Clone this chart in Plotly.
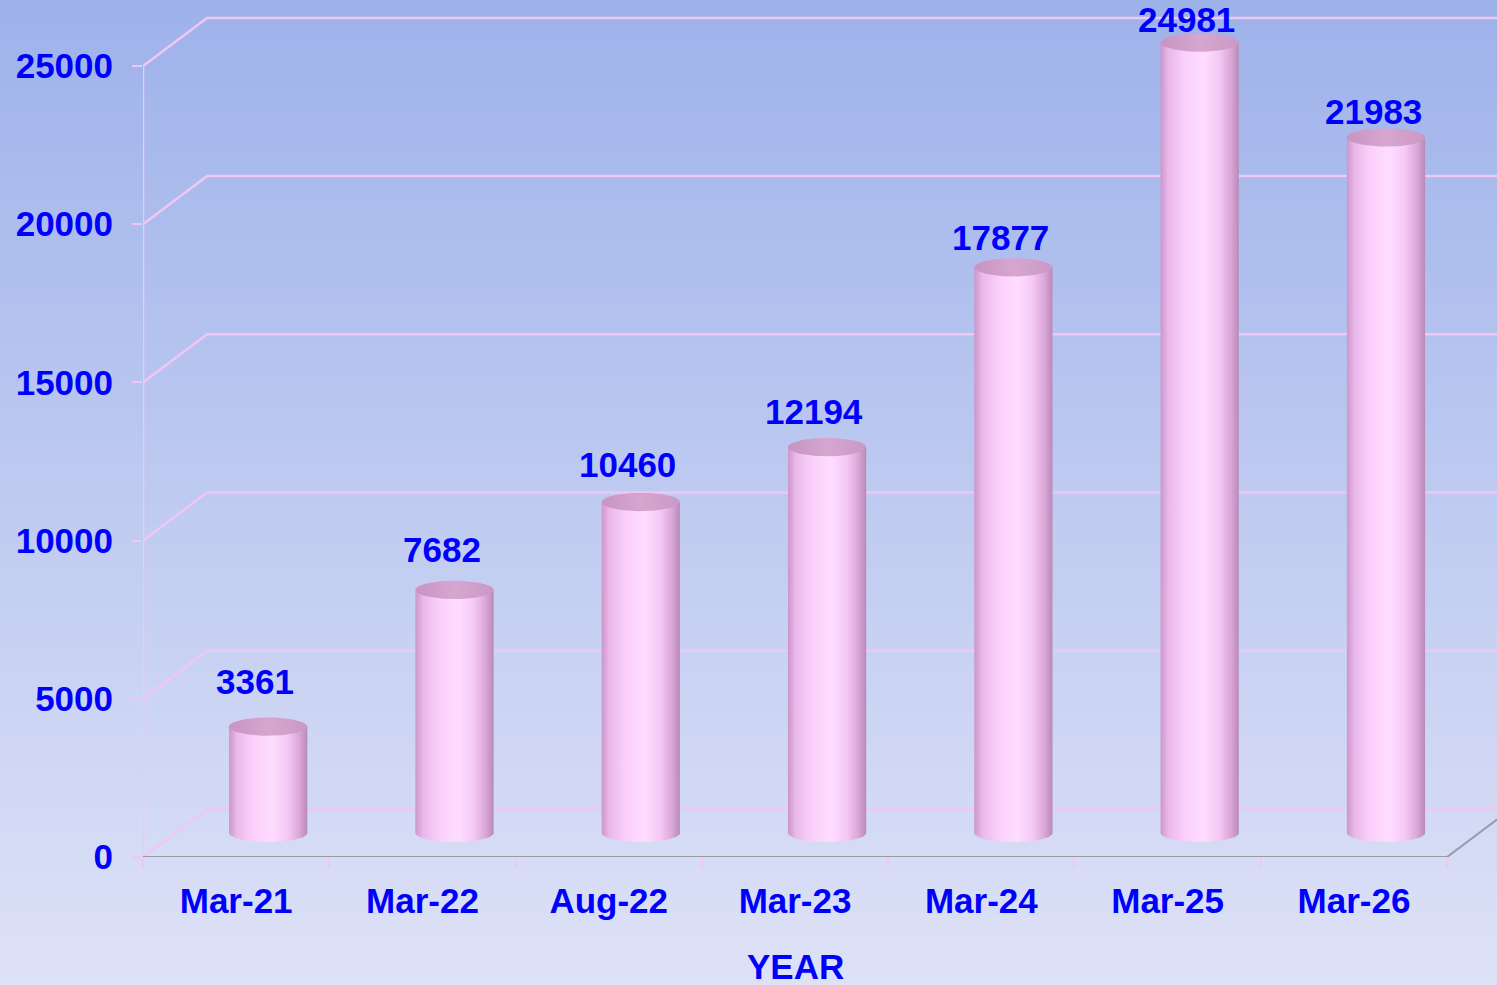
import base64, struct, zlib
import numpy as np
import plotly.graph_objects as go

# ---------------- data ----------------
categories = ["Mar-21", "Mar-22", "Aug-22", "Mar-23", "Mar-24", "Mar-25", "Mar-26"]
values = [3361, 7682, 10460, 12194, 17877, 24981, 21983]
y_ticks = [0, 5000, 10000, 15000, 20000, 25000]
x_title = "YEAR"

# ---------------- style / geometry ----------------
W, H = 1497, 985
ML, MB = 143, 128
PLOT_W, PLOT_H = W - ML, H - MB
X_RANGE = [-0.5, 6.768]
Y_RANGE = [0, 27086]
DX = 0.344        # depth offset in x units
DY = 1520         # depth offset in y units
RAD = 0.21        # cylinder radius in x units
ELL = 290         # ellipse half height in y units
BLUE = "#0000FF"
PINK = "#F0C6F4"
GREY = "#9A9AA6"
FONT = "Liberation Sans, Arial, sans-serif"
FS = 35


def gradient_png(top, bottom, h=256):
    rows = b""
    for k in range(h):
        t = k / (h - 1)
        c = [int(round(top[j] + (bottom[j] - top[j]) * t)) for j in range(3)]
        rows += b"\x00" + bytes(c) * 2
    def chunk(tag, data):
        return struct.pack(">I", len(data)) + tag + data + struct.pack(">I", zlib.crc32(tag + data) & 0xFFFFFFFF)
    png = b"\x89PNG\r\n\x1a\n" + chunk(b"IHDR", struct.pack(">IIBBBBB", 2, h, 8, 2, 0, 0, 0))
    png += chunk(b"IDAT", zlib.compress(rows)) + chunk(b"IEND", b"")
    return "data:image/png;base64," + base64.b64encode(png).decode()


fig = go.Figure()

n = len(categories)
x_left, x_right = -0.5, n - 0.5

# back wall grid lines + left wall diagonals
for v in y_ticks:
    fig.add_trace(go.Scatter(
        x=[x_left, x_left + DX, x_right + DX], y=[v, v + DY, v + DY],
        mode="lines", line=dict(color=PINK, width=2.5), hoverinfo="skip", showlegend=False))

# front y axis line
fig.add_trace(go.Scatter(x=[x_left, x_left], y=[0, y_ticks[-1]], mode="lines",
                         line=dict(color=PINK, width=2.5), hoverinfo="skip", showlegend=False))
# floor front and right edges
fig.add_trace(go.Scatter(x=[x_left, x_right, x_right + DX], y=[0, 0, DY], mode="lines",
                         line=dict(color=GREY, width=2), hoverinfo="skip", showlegend=False))

# cylinders
theta = np.linspace(0, np.pi, 60)
body_scale = [[0, "#CC96CA"], [0.1, "#EAB8EA"], [0.3, "#FACFFA"], [0.55, "#FFDDFF"],
              [0.75, "#F4C8F4"], [0.9, "#DAA6D8"], [1, "#B88AB6"]]
for i, v in enumerate(values):
    xc = i + DX / 2
    base = DY / 2
    top = v + DY / 2
    bx = xc - RAD * np.cos(theta)
    by = base - ELL * np.sin(theta)
    px = np.concatenate([bx, [xc + RAD, xc - RAD]])
    py = np.concatenate([by, [top, top]])
    fig.add_trace(go.Scatter(
        x=px, y=py, fill="toself", mode="lines", line=dict(width=0, color="rgba(0,0,0,0)"),
        fillgradient=dict(type="horizontal", colorscale=body_scale),
        hoverinfo="skip", showlegend=False))
    t2 = np.linspace(0, 2 * np.pi, 100)
    fig.add_trace(go.Scatter(
        x=xc + RAD * np.cos(t2), y=top + ELL * np.sin(t2), fill="toself", mode="lines",
        line=dict(width=0, color="rgba(0,0,0,0)"),
        fillgradient=dict(type="horizontal", colorscale=[[0, "#C894C2"], [0.5, "#D6A6D0"], [1, "#CA98C4"]]),
        hoverinfo="skip", showlegend=False))
    # label sits a little closer to the top on taller cylinders (as in the original)
    fig.add_annotation(x=i + 0.3 * DX, y=top, yshift=48 - v * 0.001, text=str(v), showarrow=False,
                       font=dict(family=FONT, size=FS, color=BLUE, weight=700),
                       xanchor="center", yanchor="middle")

fig.add_annotation(x=(x_left + x_right) / 2, xref="x", y=-110 / PLOT_H, yref="paper",
                   text=x_title, showarrow=False, xanchor="center", yanchor="middle",
                   font=dict(family=FONT, size=FS, color=BLUE, weight=700))

fig.update_layout(
    width=W, height=H,
    margin=dict(l=ML, r=0, t=0, b=MB, autoexpand=False),
    paper_bgcolor="#DDE2F6",
    plot_bgcolor="rgba(0,0,0,0)",
    showlegend=False,
    images=[dict(source=gradient_png((158, 178, 234), (222, 226, 247)),
                 xref="paper", yref="paper", x=-ML / PLOT_W, y=1,
                 sizex=W / PLOT_W, sizey=H / PLOT_H, sizing="stretch",
                 xanchor="left", yanchor="top", layer="below")],
    xaxis=dict(range=X_RANGE, showgrid=False, zeroline=False, showline=False,
               tickmode="array", tickvals=list(range(n)), ticktext=categories,
               ticks="", ticklabelstandoff=20,
               tickfont=dict(family=FONT, size=FS, color=BLUE, weight=700),
               minor=dict(tickmode="array", tickvals=[k - 0.5 for k in range(n + 1)],
                          ticks="outside", ticklen=10, tickcolor=PINK, tickwidth=2),
               fixedrange=True),
    yaxis=dict(range=Y_RANGE, showgrid=False, zeroline=False, showline=False,
               tickmode="array", tickvals=y_ticks, ticktext=[str(t) for t in y_ticks],
               ticks="outside", ticklen=10, tickcolor=PINK, tickwidth=2,
               ticklabelstandoff=12,
               tickfont=dict(family=FONT, size=FS, color=BLUE, weight=700),
               fixedrange=True),
)

fig.write_html("out.html", config={"displayModeBar": False},
               post_script="document.body.style.margin='0';document.body.style.overflow='hidden';")
